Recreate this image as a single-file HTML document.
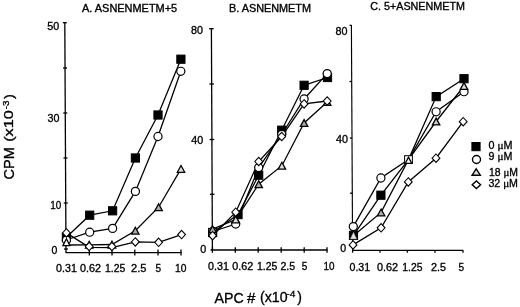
<!DOCTYPE html>
<html><head><meta charset="utf-8"><style>
html,body{margin:0;padding:0;background:#fff;}
svg{display:block;font-family:"Liberation Sans",sans-serif;will-change:transform;}
</style></head><body>
<svg width="520" height="307" viewBox="0 0 520 307">
<rect width="520" height="307" fill="#fff"/>
<g stroke="#000" stroke-width="1.3" fill="none">
<line x1="64.8" y1="22.7" x2="66.0" y2="252.7"/>
<line x1="62.80" y1="22.7" x2="66.80" y2="22.7"/>
<line x1="63.04" y1="68" x2="67.04" y2="68"/>
<line x1="63.28" y1="113" x2="67.28" y2="113"/>
<line x1="63.51" y1="158" x2="67.51" y2="158"/>
<line x1="63.75" y1="203" x2="67.75" y2="203"/>
<line x1="63.99" y1="249.0" x2="67.99" y2="249.0"/>
<line x1="65.6" y1="252.7" x2="181.4" y2="252.7"/>
<line x1="89.3" y1="249.6" x2="89.3" y2="255.6"/>
<line x1="112" y1="249.6" x2="112" y2="255.6"/>
<line x1="134.8" y1="249.6" x2="134.8" y2="255.6"/>
<line x1="158" y1="249.6" x2="158" y2="255.6"/>
<line x1="181" y1="249.6" x2="181" y2="255.6"/>
</g>
<polyline points="66.4,237.2 89.7,215.2 112.6,210.8 135.4,158 158,115 180.9,59.2" fill="none" stroke="#000" stroke-width="1.28"/>
<polyline points="66,240 89.7,232.2 112.6,228.4 135.4,191.4 158,136.5 180.8,71.3" fill="none" stroke="#000" stroke-width="1.28"/>
<polyline points="66.4,245.0 89.2,244.8 112,244.5 135.3,230.7 158.6,207.2 181,168.9" fill="none" stroke="#000" stroke-width="1.28"/>
<polyline points="66.4,232.9 89.2,247.4 112,247.6 135.3,241.9 158.6,242.3 181.6,234.6" fill="none" stroke="#000" stroke-width="1.28"/>
<rect x="62.30" y="233.10" width="8.2" height="8.2" fill="#000" stroke="#000" stroke-width="1"/>
<rect x="85.60" y="211.10" width="8.2" height="8.2" fill="#000" stroke="#000" stroke-width="1"/>
<rect x="108.50" y="206.70" width="8.2" height="8.2" fill="#000" stroke="#000" stroke-width="1"/>
<rect x="131.30" y="153.90" width="8.2" height="8.2" fill="#000" stroke="#000" stroke-width="1"/>
<rect x="153.90" y="110.90" width="8.2" height="8.2" fill="#000" stroke="#000" stroke-width="1"/>
<rect x="176.80" y="55.10" width="8.2" height="8.2" fill="#000" stroke="#000" stroke-width="1"/>
<circle cx="66.4" cy="240.3" r="4.05" fill="#fff" stroke="#000" stroke-width="1.2"/>
<circle cx="89.7" cy="232.2" r="4.05" fill="#fff" stroke="#000" stroke-width="1.2"/>
<circle cx="112.6" cy="228.4" r="4.05" fill="#fff" stroke="#000" stroke-width="1.2"/>
<circle cx="135.4" cy="191.4" r="4.05" fill="#fff" stroke="#000" stroke-width="1.2"/>
<circle cx="158" cy="136.5" r="4.05" fill="#fff" stroke="#000" stroke-width="1.2"/>
<circle cx="180.8" cy="71.3" r="4.05" fill="#fff" stroke="#000" stroke-width="1.2"/>
<polygon points="66.40,238.80 69.90,245.60 62.90,245.60" fill="#fff" stroke="#000" stroke-width="1.3"/>
<polygon points="89.20,241.30 92.90,248.10 85.50,248.10" fill="#aaa" stroke="#000" stroke-width="1.3"/>
<polygon points="112.00,241.20 115.70,248.00 108.30,248.00" fill="#aaa" stroke="#000" stroke-width="1.3"/>
<polygon points="135.30,227.30 139.00,234.10 131.60,234.10" fill="#aaa" stroke="#000" stroke-width="1.3"/>
<polygon points="158.60,203.80 162.30,210.60 154.90,210.60" fill="#aaa" stroke="#000" stroke-width="1.3"/>
<polygon points="181.00,165.50 184.70,172.30 177.30,172.30" fill="#ddd" stroke="#000" stroke-width="1.3"/>
<polygon points="66.40,228.70 70.30,232.90 66.40,237.10 62.50,232.90" fill="#fff" stroke="#000" stroke-width="1.1"/>
<polygon points="89.20,242.30 93.10,246.50 89.20,250.70 85.30,246.50" fill="#fff" stroke="#000" stroke-width="1.1"/>
<polygon points="111.90,242.30 115.80,246.50 111.90,250.70 108.00,246.50" fill="#fff" stroke="#000" stroke-width="1.1"/>
<polygon points="135.30,237.70 139.20,241.90 135.30,246.10 131.40,241.90" fill="#fff" stroke="#000" stroke-width="1.1"/>
<polygon points="158.60,238.10 162.50,242.30 158.60,246.50 154.70,242.30" fill="#fff" stroke="#000" stroke-width="1.1"/>
<polygon points="181.60,230.40 185.50,234.60 181.60,238.80 177.70,234.60" fill="#fff" stroke="#000" stroke-width="1.1"/>
<g stroke="#000" stroke-width="1.3" fill="none">
<line x1="211.4" y1="28.7" x2="212.4" y2="250.0"/>
<line x1="209.10" y1="28.7" x2="213.70" y2="28.7"/>
<line x1="209.35" y1="84.0" x2="213.95" y2="84.0"/>
<line x1="209.60" y1="139.5" x2="214.20" y2="139.5"/>
<line x1="209.85" y1="194.3" x2="214.45" y2="194.3"/>
<line x1="210.6" y1="250.0" x2="327.4" y2="250.0"/>
<line x1="212.4" y1="247.2" x2="212.4" y2="252.8"/>
<line x1="235.3" y1="247.2" x2="235.3" y2="252.8"/>
<line x1="258.2" y1="247.2" x2="258.2" y2="252.8"/>
<line x1="281.2" y1="247.2" x2="281.2" y2="252.8"/>
<line x1="304.2" y1="247.2" x2="304.2" y2="252.8"/>
<line x1="327" y1="247.2" x2="327" y2="252.8"/>
</g>
<polyline points="212.6,232.5 238,214.6 258.7,175.2 281.7,130.2 304.1,85.3 327.5,77.5" fill="none" stroke="#000" stroke-width="1.28"/>
<polyline points="212.6,231.5 235.7,224 258.7,167.6 281.7,134.5 304.1,99 327.2,73.6" fill="none" stroke="#000" stroke-width="1.28"/>
<polyline points="212.6,229.2 235.7,219.5 258.7,184.2 281.9,165.7 304.1,123 327.2,102" fill="none" stroke="#000" stroke-width="1.28"/>
<polyline points="212.6,235.7 235.7,212.2 258.7,161.5 281.7,136.5 304.1,103.9 327.2,101" fill="none" stroke="#000" stroke-width="1.28"/>
<rect x="208.50" y="228.40" width="8.2" height="8.2" fill="#000" stroke="#000" stroke-width="1"/>
<rect x="233.90" y="210.50" width="8.2" height="8.2" fill="#000" stroke="#000" stroke-width="1"/>
<rect x="254.60" y="171.10" width="8.2" height="8.2" fill="#000" stroke="#000" stroke-width="1"/>
<rect x="277.60" y="126.10" width="8.2" height="8.2" fill="#000" stroke="#000" stroke-width="1"/>
<rect x="300.00" y="81.20" width="8.2" height="8.2" fill="#000" stroke="#000" stroke-width="1"/>
<rect x="323.40" y="73.40" width="8.2" height="8.2" fill="#000" stroke="#000" stroke-width="1"/>
<circle cx="212.6" cy="231.5" r="4.05" fill="#fff" stroke="#000" stroke-width="1.2"/>
<circle cx="235.7" cy="224" r="4.05" fill="#fff" stroke="#000" stroke-width="1.2"/>
<circle cx="258.7" cy="167.6" r="4.05" fill="#fff" stroke="#000" stroke-width="1.2"/>
<circle cx="281.7" cy="134.5" r="4.05" fill="#fff" stroke="#000" stroke-width="1.2"/>
<circle cx="304.1" cy="99" r="4.05" fill="#fff" stroke="#000" stroke-width="1.2"/>
<circle cx="327.2" cy="73.6" r="4.05" fill="#fff" stroke="#000" stroke-width="1.2"/>
<polygon points="212.60,225.80 216.30,232.60 208.90,232.60" fill="#aaa" stroke="#000" stroke-width="1.3"/>
<polygon points="235.70,216.10 239.40,222.90 232.00,222.90" fill="#ddd" stroke="#000" stroke-width="1.3"/>
<polygon points="258.70,180.80 262.40,187.60 255.00,187.60" fill="#aaa" stroke="#000" stroke-width="1.3"/>
<polygon points="281.90,162.30 285.60,169.10 278.20,169.10" fill="#ddd" stroke="#000" stroke-width="1.3"/>
<polygon points="304.10,119.60 307.80,126.40 300.40,126.40" fill="#aaa" stroke="#000" stroke-width="1.3"/>
<polygon points="327.20,98.60 330.90,105.40 323.50,105.40" fill="#aaa" stroke="#000" stroke-width="1.3"/>
<polygon points="212.60,231.50 216.50,235.70 212.60,239.90 208.70,235.70" fill="#fff" stroke="#000" stroke-width="1.1"/>
<polygon points="235.70,208.00 239.60,212.20 235.70,216.40 231.80,212.20" fill="#fff" stroke="#000" stroke-width="1.1"/>
<polygon points="258.70,157.30 262.60,161.50 258.70,165.70 254.80,161.50" fill="#fff" stroke="#000" stroke-width="1.1"/>
<polygon points="281.70,132.30 285.60,136.50 281.70,140.70 277.80,136.50" fill="#fff" stroke="#000" stroke-width="1.1"/>
<polygon points="304.10,99.70 308.00,103.90 304.10,108.10 300.20,103.90" fill="#fff" stroke="#000" stroke-width="1.1"/>
<polygon points="327.20,96.80 331.10,101.00 327.20,105.20 323.30,101.00" fill="#fff" stroke="#000" stroke-width="1.1"/>
<g stroke="#000" stroke-width="1.3" fill="none">
<line x1="351.4" y1="25.1" x2="352.6" y2="250.3" stroke-width="1.15"/>
<line x1="349.6" y1="25.3" x2="351.4" y2="25.3"/>
<line x1="349.50" y1="81.5" x2="351.90" y2="81.5"/>
<line x1="349.80" y1="138.0" x2="352.20" y2="138.0"/>
<line x1="350.09" y1="193.2" x2="352.49" y2="193.2"/>
<line x1="352" y1="250.3" x2="463.2" y2="250.3"/>
<line x1="352.6" y1="250.3" x2="352.6" y2="252.7"/>
<line x1="380.0" y1="250.3" x2="380.0" y2="252.7"/>
<line x1="407.4" y1="250.3" x2="407.4" y2="252.7"/>
<line x1="435" y1="250.3" x2="435" y2="252.7"/>
<line x1="463" y1="250.3" x2="463" y2="252.7"/>
</g>
<polyline points="353.5,235.4 380.9,195.2 408.5,159.6 436.2,96.6 464,78.7" fill="none" stroke="#000" stroke-width="1.28"/>
<polyline points="353.3,226.6 380.9,178 408.5,159.6 436.1,111.8 464,91.7" fill="none" stroke="#000" stroke-width="1.28"/>
<polyline points="353.4,235.8 381.1,212.4 408.5,159.6 436.1,121.5 464,86" fill="none" stroke="#000" stroke-width="1.28"/>
<polyline points="353.0,244.9 381.1,227.8 408.3,181.9 436,158.2 463.2,121.7" fill="none" stroke="#000" stroke-width="1.28"/>
<rect x="349.40" y="231.30" width="8.2" height="8.2" fill="#000" stroke="#000" stroke-width="1"/>
<rect x="376.80" y="191.10" width="8.2" height="8.2" fill="#000" stroke="#000" stroke-width="1"/>
<rect x="404.60" y="155.70" width="7.8" height="7.8" fill="#fff" stroke="#000" stroke-width="1"/>
<polygon points="408.50,157.10 411.70,163.30 405.30,163.30" fill="#fff" stroke="#000" stroke-width="1.3"/>
<rect x="432.10" y="92.50" width="8.2" height="8.2" fill="#000" stroke="#000" stroke-width="1"/>
<rect x="459.90" y="74.60" width="8.2" height="8.2" fill="#000" stroke="#000" stroke-width="1"/>
<circle cx="353.3" cy="226.6" r="4.05" fill="#fff" stroke="#000" stroke-width="1.2"/>
<circle cx="380.9" cy="178" r="4.05" fill="#fff" stroke="#000" stroke-width="1.2"/>
<circle cx="436.1" cy="111.8" r="4.05" fill="#fff" stroke="#000" stroke-width="1.2"/>
<circle cx="464" cy="91.7" r="4.05" fill="#fff" stroke="#000" stroke-width="1.2"/>
<polygon points="353.5,232.3 356.7,238.9 350.3,238.9" fill="#e4e4e4" stroke="#888" stroke-width="0.5"/>
<polygon points="381.10,209.00 384.80,215.80 377.40,215.80" fill="#aaa" stroke="#000" stroke-width="1.3"/>
<polygon points="436.10,118.10 439.80,124.90 432.40,124.90" fill="#c8c8c8" stroke="#000" stroke-width="1.3"/>
<polygon points="464.00,82.60 467.70,89.40 460.30,89.40" fill="#ddd" stroke="#000" stroke-width="1.3"/>
<polygon points="353.00,240.70 356.90,244.90 353.00,249.10 349.10,244.90" fill="#fff" stroke="#000" stroke-width="1.1"/>
<polygon points="381.10,223.60 385.00,227.80 381.10,232.00 377.20,227.80" fill="#fff" stroke="#000" stroke-width="1.1"/>
<polygon points="408.30,177.70 412.20,181.90 408.30,186.10 404.40,181.90" fill="#fff" stroke="#000" stroke-width="1.1"/>
<polygon points="436.00,154.00 439.90,158.20 436.00,162.40 432.10,158.20" fill="#fff" stroke="#000" stroke-width="1.1"/>
<polygon points="463.20,117.50 467.10,121.70 463.20,125.90 459.30,121.70" fill="#fff" stroke="#000" stroke-width="1.1"/>
<rect x="471.9" y="142.5" width="8.2" height="8.2" fill="#000" stroke="#000" stroke-width="1"/>
<circle cx="476.5" cy="159.5" r="4.0" fill="#fff" stroke="#000" stroke-width="1.4"/>
<polygon points="476.2,168.9 480.3,175.2 472.1,175.2" fill="#ddd" stroke="#000" stroke-width="1.4"/>
<polygon points="476.4,180.9 480.6,184.7 476.4,188.5 472.2,184.7" fill="#fff" stroke="#000" stroke-width="1.4"/>
<g fill="#000" stroke="#000" stroke-width="0.32" font-family="Liberation Sans, sans-serif">
<text x="82" y="11.8" font-size="10.2" textLength="95.2" lengthAdjust="spacingAndGlyphs" text-anchor="start" >A. ASNENMETM+5</text>
<text x="229" y="12.4" font-size="10.2" textLength="82" lengthAdjust="spacingAndGlyphs" text-anchor="start" >B. ASNENMETM</text>
<text x="370.3" y="10.0" font-size="10.2" textLength="94.6" lengthAdjust="spacingAndGlyphs" text-anchor="start" >C. 5+ASNENMETM</text>
<text x="47.2" y="29.6" font-size="10.5" textLength="12" lengthAdjust="spacingAndGlyphs" text-anchor="start" >50</text>
<text x="47.6" y="122.3" font-size="10.5" textLength="12" lengthAdjust="spacingAndGlyphs" text-anchor="start" >30</text>
<text x="50.2" y="209.4" font-size="10.5" textLength="11" lengthAdjust="spacingAndGlyphs" text-anchor="start" >10</text>
<text x="51.6" y="253.6" font-size="10.5" text-anchor="start" >0</text>
<text x="191" y="34.2" font-size="10.5" textLength="12" lengthAdjust="spacingAndGlyphs" text-anchor="start" >80</text>
<text x="191.3" y="143.7" font-size="10.5" textLength="12" lengthAdjust="spacingAndGlyphs" text-anchor="start" >40</text>
<text x="200.2" y="253.0" font-size="10.8" text-anchor="start" >0</text>
<text x="335.5" y="34.5" font-size="10.8" textLength="12" lengthAdjust="spacingAndGlyphs" text-anchor="start" >80</text>
<text x="336.1" y="143.2" font-size="10.5" textLength="12" lengthAdjust="spacingAndGlyphs" text-anchor="start" >40</text>
<text x="340.2" y="252.2" font-size="10.6" text-anchor="start" >0</text>
<text x="56.1" y="271.9" font-size="10.0" textLength="20.8" lengthAdjust="spacingAndGlyphs" text-anchor="start" >0.31</text>
<text x="79.9" y="271.9" font-size="10.0" textLength="21" lengthAdjust="spacingAndGlyphs" text-anchor="start" >0.62</text>
<text x="105.0" y="271.9" font-size="10.0" textLength="20.2" lengthAdjust="spacingAndGlyphs" text-anchor="start" >1.25</text>
<text x="131.1" y="271.9" font-size="10.0" textLength="15.4" lengthAdjust="spacingAndGlyphs" text-anchor="start" >2.5</text>
<text x="155.5" y="271.9" font-size="10.0" text-anchor="start" >5</text>
<text x="175.0" y="271.9" font-size="10.0" textLength="11.4" lengthAdjust="spacingAndGlyphs" text-anchor="start" >10</text>
<text x="208.1" y="270.3" font-size="10.0" textLength="20.8" lengthAdjust="spacingAndGlyphs" text-anchor="start" >0.31</text>
<text x="232.2" y="270.3" font-size="10.0" textLength="21" lengthAdjust="spacingAndGlyphs" text-anchor="start" >0.62</text>
<text x="257.0" y="270.3" font-size="10.0" textLength="20.2" lengthAdjust="spacingAndGlyphs" text-anchor="start" >1.25</text>
<text x="280.4" y="270.3" font-size="10.0" textLength="14.8" lengthAdjust="spacingAndGlyphs" text-anchor="start" >2.5</text>
<text x="301.7" y="270.3" font-size="10.0" text-anchor="start" >5</text>
<text x="323.5" y="270.3" font-size="10.0" textLength="11" lengthAdjust="spacingAndGlyphs" text-anchor="start" >10</text>
<text x="349.5" y="270.55" font-size="10.0" textLength="20.6" lengthAdjust="spacingAndGlyphs" text-anchor="start" >0.31</text>
<text x="376.9" y="270.55" font-size="10.0" textLength="21.1" lengthAdjust="spacingAndGlyphs" text-anchor="start" >0.62</text>
<text x="402.3" y="270.55" font-size="10.0" textLength="20.2" lengthAdjust="spacingAndGlyphs" text-anchor="start" >1.25</text>
<text x="431.1" y="270.55" font-size="10.0" textLength="15" lengthAdjust="spacingAndGlyphs" text-anchor="start" >2.5</text>
<text x="458.5" y="270.55" font-size="10.0" text-anchor="start" >5</text>
<text x="488.4" y="149.2" font-size="10.6" textLength="24" lengthAdjust="spacingAndGlyphs">0 <tspan font-family="Liberation Serif, serif" font-size="11">&#956;</tspan>M</text>
<text x="488.6" y="159.5" font-size="10.6" textLength="23.8" lengthAdjust="spacingAndGlyphs">9 <tspan font-family="Liberation Serif, serif" font-size="11">&#956;</tspan>M</text>
<text x="488.9" y="175.6" font-size="10.6" textLength="29" lengthAdjust="spacingAndGlyphs">18 <tspan font-family="Liberation Serif, serif" font-size="11">&#956;</tspan>M</text>
<text x="488.4" y="186.6" font-size="10.6" textLength="29.6" lengthAdjust="spacingAndGlyphs">32 <tspan font-family="Liberation Serif, serif" font-size="11">&#956;</tspan>M</text>
<text x="214.5" y="302.6" font-size="14.2" textLength="29.2" lengthAdjust="spacingAndGlyphs" text-anchor="start" >APC</text>
<text x="247.1" y="302.6" font-size="14.2" textLength="8.4" lengthAdjust="spacingAndGlyphs" text-anchor="start" >#</text>
<text x="260.1" y="302.4" font-size="14.0" textLength="27.5" lengthAdjust="spacingAndGlyphs" text-anchor="start" >(x10</text>
<text x="286.3" y="297.1" font-size="9.6" textLength="9.0" lengthAdjust="spacingAndGlyphs" text-anchor="start" >-4</text>
<text x="297.2" y="302.4" font-size="14.0" text-anchor="start" >)</text>
<g transform="translate(13.4,179.4) rotate(-90)">
<text x="-0.2" y="0.2" font-size="14.0" textLength="32.4" lengthAdjust="spacingAndGlyphs" text-anchor="start" >CPM</text>
<text x="37.6" y="-0.5" font-size="13.0" textLength="31.6" lengthAdjust="spacingAndGlyphs" text-anchor="start" >(x10</text>
<text x="70.2" y="-4.6" font-size="9.3" textLength="8.8" lengthAdjust="spacingAndGlyphs" text-anchor="start" >-3</text>
<text x="80.4" y="-0.5" font-size="13.0" textLength="4.8" lengthAdjust="spacingAndGlyphs" text-anchor="start" >)</text>
</g>
</g>
</svg>
</body></html>
